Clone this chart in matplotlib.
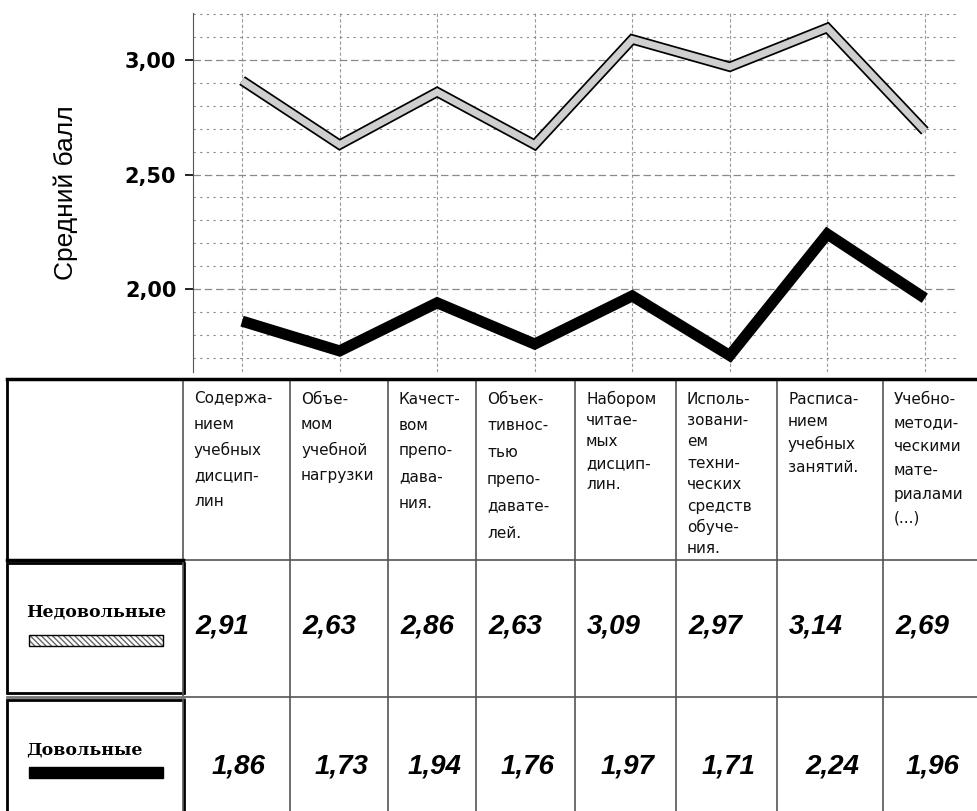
import numpy as np
import matplotlib.pyplot as plt
import matplotlib.patheffects as pe
from matplotlib.patches import Rectangle
from matplotlib.ticker import FuncFormatter, MultipleLocator

# -------- data --------
categories = [
    "Содержа-\nнием\nучебных\nдисцип-\nлин",
    "Объе-\nмом\nучебной\nнагрузки",
    "Качест-\nвом\nпрепо-\nдава-\nния.",
    "Объек-\nтивнос-\nтью\nпрепо-\nдавате-\nлей.",
    "Набором\nчитае-\nмых\nдисцип-\nлин.",
    "Исполь-\nзовани-\nем\nтехни-\nческих\nсредств\nобуче-\nния.",
    "Расписа-\nнием\nучебных\nзанятий.",
    "Учебно-\nметоди-\nческими\nмате-\nриалами\n(...)",
]
unhappy = [2.91, 2.63, 2.86, 2.63, 3.09, 2.97, 3.14, 2.69]
happy = [1.86, 1.73, 1.94, 1.76, 1.97, 1.71, 2.24, 1.96]
series_names = ["Недовольные", "Довольные"]
ylabel = "Средний балл"

W, H = 978, 811
fig = plt.figure(figsize=(W / 100, H / 100), dpi=100)

# full-figure helper axes in pixel coords for the table underneath
tab = fig.add_axes([0, 0, 1, 1], zorder=0)
tab.set_xlim(0, W)
tab.set_ylim(H, 0)
tab.axis("off")

# -------- chart --------
ax = fig.add_axes([193 / W, 1 - 372 / H, (958 - 193) / W, (372 - 13) / H], zorder=1)
ax.patch.set_alpha(0)
x = np.arange(len(unhappy))

ax.plot(x, happy, color="black", lw=8, solid_joinstyle="miter",
        solid_capstyle="butt", zorder=3)
ax.plot(x, unhappy, color="#cfcfcf", lw=5, solid_joinstyle="miter",
        solid_capstyle="butt", zorder=3,
        path_effects=[pe.Stroke(linewidth=7.5, foreground="black"), pe.Normal()])

ax.set_xlim(-0.503, 7.34)
ax.set_ylim(1.638, 3.205)
ax.yaxis.set_major_locator(MultipleLocator(0.5))
ax.yaxis.set_minor_locator(MultipleLocator(0.1))
ax.yaxis.set_major_formatter(FuncFormatter(lambda v, p: f"{v:.2f}".replace(".", ",")))
ax.set_xticks(x)
ax.tick_params(axis="x", length=0, labelbottom=False)
ax.tick_params(axis="y", which="major", length=6, width=1.2, pad=6,
               labelsize=15)
ax.tick_params(axis="y", which="minor", length=0)
for lab in ax.get_yticklabels():
    lab.set_fontweight("heavy")

ax.grid(True, axis="y", which="minor", color="#8a8a8a", lw=0.8, linestyle=(0, (2, 4)))
ax.grid(True, axis="y", which="major", color="#8a8a8a", lw=0.9, linestyle=(0, (6, 3)))
ax.grid(True, axis="x", which="major", color="#9a9a9a", lw=0.8, linestyle=(0, (3, 2)))
for s in ["top", "right", "bottom"]:
    ax.spines[s].set_visible(False)
ax.spines["left"].set_color("#555555")

ax.set_ylabel(ylabel, family="Liberation Sans", fontsize=19)
ax.yaxis.set_label_coords(-0.15, 0.5)

# -------- table --------
col_edges = [7, 183, 290, 388, 476, 575, 676, 777, 883, 978]
row_edges = [379, 560, 697, 811]
line_gap = [25.5, 25.5, 26, 26.8, 21.4, 21.4, 22.7, 23.8]
grey = "#555555"

for cx in col_edges[1:]:
    tab.plot([cx, cx], [row_edges[0], H], color=grey, lw=1.2)
for ry in row_edges[1:3]:
    tab.plot([col_edges[1], W], [ry, ry], color=grey, lw=1.2)
tab.plot([col_edges[0], W], [row_edges[0], row_edges[0]], color="black", lw=2.5)
tab.plot([col_edges[0], col_edges[0]], [row_edges[0], row_edges[1]], color="black", lw=2)
tab.plot([col_edges[0], col_edges[1]], [row_edges[1], row_edges[1]], color="black", lw=2.5)
tab.add_patch(Rectangle((7, 563), 177, 130, fill=False, ec="black", lw=2))
tab.add_patch(Rectangle((7, 700), 177, 112, fill=False, ec="black", lw=2))
tab.plot([7, 184], [696.5, 696.5], color="#777777", lw=2)

for i, cat in enumerate(categories):
    for j, line in enumerate(cat.split("\n")):
        tab.text(col_edges[i + 1] + 11, 399 + j * line_gap[i], line,
                 fontsize=11, va="center", ha="left", color="#111111")

for i, v in enumerate(unhappy):
    tab.text(col_edges[i + 1] + 12, 627, f"{v:.2f}".replace(".", ","),
             fontsize=20, fontweight="bold", style="italic",
             family="Liberation Sans", va="center", ha="left")
for i, v in enumerate(happy):
    cx = (col_edges[i + 1] + col_edges[i + 2]) / 2
    tab.text(cx + 2, 767, f"{v:.2f}".replace(".", ","),
             fontsize=20, fontweight="bold", style="italic",
             family="Liberation Sans", va="center", ha="center")

# legend cells
tab.text(26, 612, series_names[0], fontsize=12.5, fontweight="bold",
         family="DejaVu Serif", va="center", ha="left")
tab.add_patch(Rectangle((29, 635), 134, 11, fc="white", ec="#666666",
                        hatch="\\\\\\\\\\\\", lw=0))
tab.add_patch(Rectangle((29, 635), 134, 11, fill=False, ec="black", lw=1))
tab.text(26, 750, series_names[1], fontsize=12.5, fontweight="bold",
         family="DejaVu Serif", va="center", ha="left")
tab.add_patch(Rectangle((29, 767), 134, 11, fc="black", ec="black", lw=1))

plt.savefig("out.png", dpi=100)
